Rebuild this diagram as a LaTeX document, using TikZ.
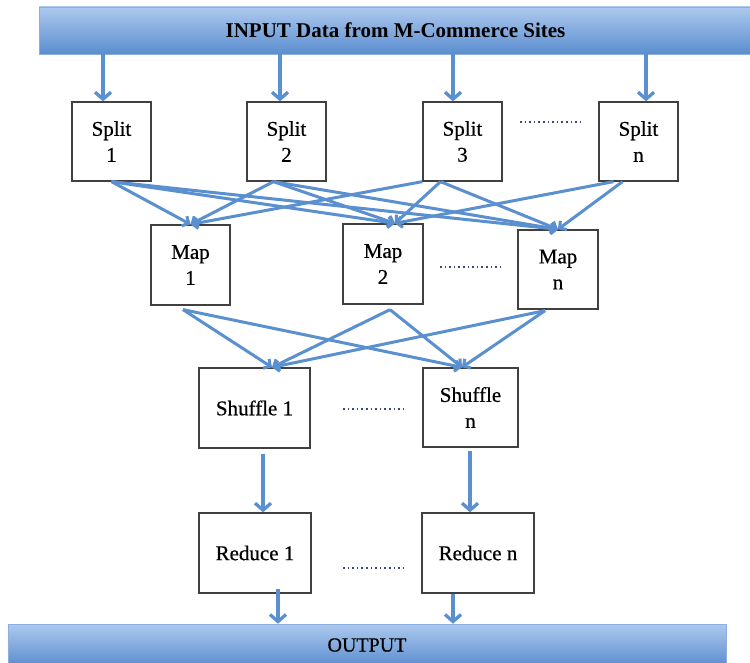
\documentclass[tikz,border=0pt]{standalone}
\usepackage{fontspec}
\setmainfont{Liberation Serif}
\newfontfamily\boxfont{Liberation Serif}[FakeBold=0.6]
\usetikzlibrary{arrows.meta}
\definecolor{flowblue}{HTML}{5A8FD0}
\definecolor{barlight}{HTML}{ADC9EE}
\definecolor{bardark}{HTML}{5B8DCF}
\definecolor{dotnavy}{HTML}{3A4A78}
\begin{document}
\begin{tikzpicture}[x=1pt,y=-1pt,
  stage/.style={draw=black!75, line width=1.3pt, fill=white, inner sep=0pt,
    align=center, font=\boxfont\fontsize{21}{26}\selectfont},
  bar/.style={draw=bardark!70, line width=0.6pt, top color=barlight,
    bottom color=bardark, inner sep=0pt},
  flow/.style={draw=flowblue, line width=3.3pt,
    -{Straight Barb[length=7pt,width=16pt]}},
  link/.style={draw=flowblue, line width=3pt,
    -{Straight Barb[length=5pt,width=11pt]}},
  gap/.style={draw=dotnavy, line width=1.7pt, dash pattern=on 1.6pt off 3pt}]
\useasboundingbox (0,0) rectangle (750,663);

% input and output bars
\node[bar, minimum width=713pt, minimum height=47pt,
  font=\bfseries\fontsize{21}{25}\selectfont] (in) at (395.5,30.5)
  {INPUT Data from M-Commerce Sites};
\node[bar, minimum width=718pt, minimum height=42pt,
  font=\boxfont\fontsize{20}{24}\selectfont] (out) at (367,645) {OUTPUT};

% split stage
\node[stage, minimum width=79pt, minimum height=79pt] (s1) at (111.5,141.5) {Split\\1};
\node[stage, minimum width=79pt, minimum height=79pt] (s2) at (286.5,141.5) {Split\\2};
\node[stage, minimum width=79pt, minimum height=79pt] (s3) at (462.5,141.5) {Split\\3};
\node[stage, minimum width=79pt, minimum height=79pt] (sn) at (638.5,141.5) {Split\\n};

% map stage
\node[stage, minimum width=79pt, minimum height=80pt] (m1) at (190.5,265) {Map\\1};
\node[stage, minimum width=80pt, minimum height=80pt] (m2) at (383,264) {Map\\2};
\node[stage, minimum width=80pt, minimum height=79pt] (mn) at (558,269.5) {Map\\n};

% shuffle stage
\node[stage, minimum width=111pt, minimum height=80pt] (h1) at (254.5,408) {Shuffle 1};
\node[stage, minimum width=95pt, minimum height=79pt] (hn) at (470.5,407.5) {Shuffle\\n};

% reduce stage
\node[stage, minimum width=112pt, minimum height=80pt] (r1) at (255,553) {Reduce 1};
\node[stage, minimum width=112pt, minimum height=80pt] (rn) at (478,553) {Reduce n};

% input -> splits
\coordinate (a1) at ([xshift=-8.5pt]s1.north);
\coordinate (a2) at ([xshift=-6.5pt]s2.north);
\coordinate (a3) at ([xshift=-9.5pt]s3.north);
\coordinate (an) at ([xshift=7.5pt]sn.north);
\foreach \c in {a1,a2,a3,an}
  \draw[flow] (in.south -| \c) -- (\c);

% splits -> maps
\coordinate (s1o) at (s1.south);
\coordinate (s2o) at ([xshift=-13pt]s2.south);
\coordinate (s3a) at (s3.south west);
\coordinate (s3o) at ([xshift=-22pt]s3.south);
\coordinate (sna) at ([xshift=-25pt]sn.south);
\coordinate (snb) at ([xshift=-16pt]sn.south);
\coordinate (m1i) at (m1.north);
\coordinate (m2i) at ([xshift=12pt]m2.north);
\coordinate (mni) at (mn.north);
\draw[link] (s1o) -- (m1i);
\draw[link] (s1o) -- (m2i);
\draw[link] (s1o) -- (mni);
\draw[link] (s2o) -- (m1i);
\draw[link] (s2o) -- (m2i);
\draw[link] (s2o) -- (mni);
\draw[link] (s3a) -- (m1i);
\draw[link] (s3o) -- (m2i);
\draw[link] (s3o) -- (mni);
\draw[link] (sna) -- (m2i);
\draw[link] (snb) -- (mni);

% maps -> shuffles
\coordinate (m1o) at ([xshift=-7.5pt,yshift=-4pt]m1.south);
\coordinate (m2o) at ([xshift=7pt,yshift=-5pt]m2.south);
\coordinate (mno) at ([xshift=-13pt,yshift=-1pt]mn.south);
\coordinate (h1i) at ([xshift=17.5pt]h1.north);
\coordinate (hni) at ([xshift=-8.5pt]hn.north);
\foreach \m in {m1o,m2o,mno}
  \foreach \h in {h1i,hni}
    \draw[link] (\m) -- (\h);

% shuffles -> reduces
\coordinate (r1i) at ([xshift=8pt]r1.north);
\coordinate (rni) at ([xshift=-8pt]rn.north);
\draw[flow] ([yshift=-5pt]h1.south -| r1i) -- (r1i);
\draw[flow] ([yshift=-3pt]hn.south -| rni) -- (rni);

% reduces -> output
\coordinate (r1o) at ([xshift=23pt,yshift=5pt]r1.south);
\coordinate (rno) at ([xshift=-25pt]rn.south);
\draw[flow] (r1o) -- (out.north -| r1o);
\draw[flow] (rno) -- (out.north -| rno);

% ellipsis dots between stages
\coordinate (d1a) at (520,122); \coordinate (d1b) at (582,122);
\coordinate (d2a) at (440,267); \coordinate (d2b) at (502,267);
\coordinate (d3a) at (343,409); \coordinate (d3b) at (405,409);
\coordinate (d4a) at (343,568); \coordinate (d4b) at (405,568);
\draw[gap] (d1a) -- (d1b);
\draw[gap] (d2a) -- (d2b);
\draw[gap] (d3a) -- (d3b);
\draw[gap] (d4a) -- (d4b);
\end{tikzpicture}
\end{document}
